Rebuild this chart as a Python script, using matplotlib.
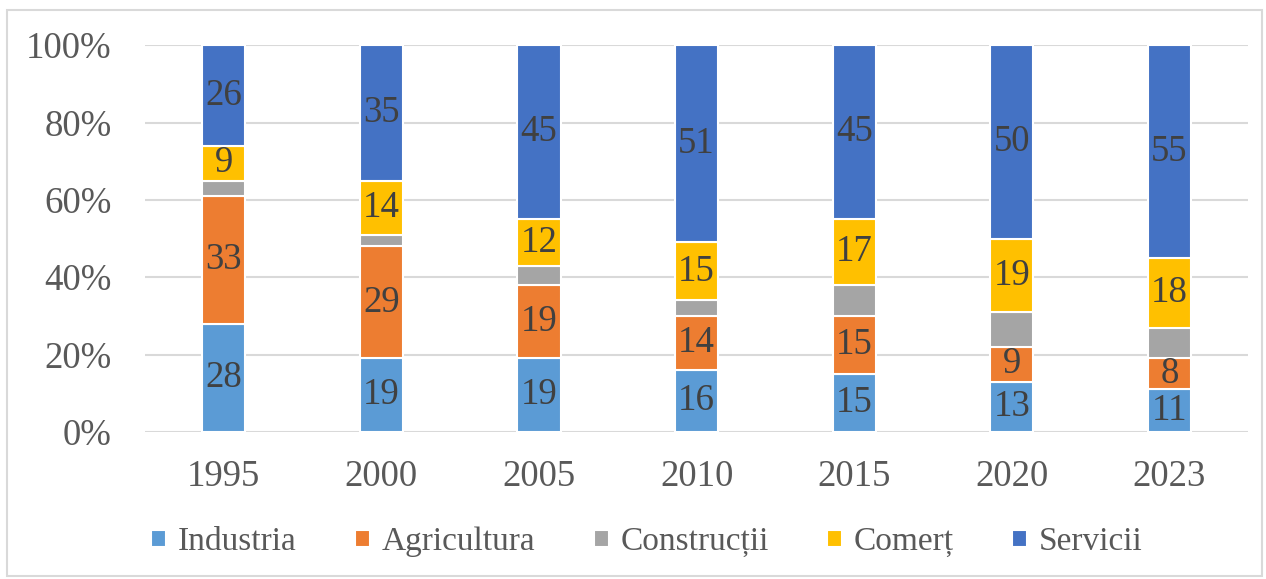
import matplotlib.pyplot as plt
import matplotlib.patches as mpatches
import numpy as np

years = ['1995', '2000', '2005', '2010', '2015', '2020', '2023']
industria = [28, 19, 19, 16, 15, 13, 11]
agricultura = [33, 29, 19, 14, 15, 9, 8]
constructii = [4, 3, 5, 4, 8, 9, 8]
comert = [9, 14, 12, 15, 17, 19, 18]
servicii = [26, 35, 45, 51, 45, 50, 55]

series = [
    ('Industria', industria, '#5B9BD5', True),
    ('Agricultura', agricultura, '#ED7D31', True),
    ('Construcții', constructii, '#A5A5A5', False),
    ('Comerț', comert, '#FFC000', True),
    ('Servicii', servicii, '#4472C4', True),
]

plt.rcParams['font.family'] = ['Liberation Serif', 'DejaVu Serif']

fig = plt.figure(figsize=(12.66, 5.79), dpi=100)
ax = fig.add_axes([0.1145, 0.254, 0.8715, 0.668])

# outer chart border
fig.patches.append(mpatches.Rectangle((7 / 1266, 3 / 579), 1255 / 1266, 566 / 579,
                                      transform=fig.transFigure, fill=False,
                                      edgecolor='#d9d9d9', linewidth=1.5))

x = np.arange(len(years))
totals = np.sum([s[1] for s in series], axis=0)
bottom = np.zeros(len(years))
for name, vals, color, show in series:
    pct = np.array(vals) / totals * 100
    ax.bar(x, pct, 0.273, bottom=bottom, color=color, edgecolor='white',
           linewidth=1.5, label=name, zorder=3)
    if show:
        for xi, b, p, v in zip(x, bottom, pct, vals):
            ax.text(xi, b + p / 2, str(v), ha='center', va='center',
                    fontsize=26.5, color='#404040', zorder=4)
    bottom += pct

ax.set_xlim(-0.5, len(years) - 0.5)
ax.set_ylim(0, 100)
ax.set_yticks(np.arange(0, 101, 20))
ax.set_yticklabels([f'{v}%' for v in range(0, 101, 20)])
ax.set_xticks(x)
ax.set_xticklabels(years)
ax.tick_params(axis='both', length=0, labelsize=26.5, colors='#595959')
ax.tick_params(axis='y', pad=24)
ax.tick_params(axis='x', pad=20)
ax.grid(axis='y', color='#d9d9d9', linewidth=1.5, zorder=0)
for sp in ax.spines.values():
    sp.set_visible(False)

leg = ax.legend(loc='center', bbox_to_anchor=(0.455, -0.285), ncol=5, frameon=False,
                fontsize=24, handlelength=0.45, handleheight=0.45,
                handletextpad=0.35, columnspacing=1.75)
for t in leg.get_texts():
    t.set_color('#595959')

fig.savefig('out.png', dpi=100)
